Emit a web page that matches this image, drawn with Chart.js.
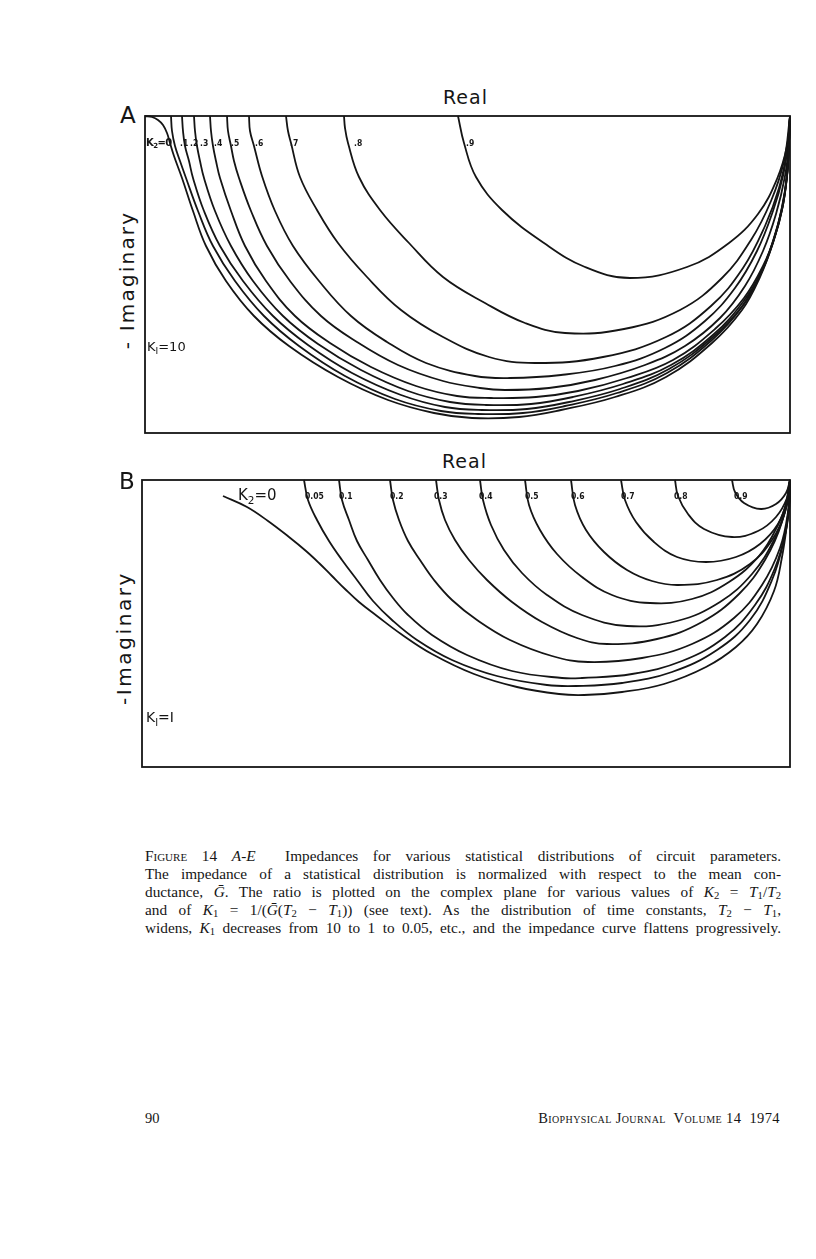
<!DOCTYPE html>
<html>
<head>
<meta charset="utf-8">
<script src="https://cdn.jsdelivr.net/npm/chart.js@4"></script>
<style>
  body { margin: 0; background: #fff; }
  #page { position: relative; width: 816px; height: 1259px; background: #fff; color: #151515; overflow: hidden; }
  canvas { position: absolute; }
  .t { position: absolute; white-space: nowrap; font-family: "DejaVu Sans", sans-serif; line-height: 1; }
  .big { font-size: 23px; }
  .axis { font-size: 19px; letter-spacing: 1px; }
  .rot { font-size: 20px; letter-spacing: 2.2px; transform: translate(-50%, -50%) rotate(-90deg); }
  .k { font-size: 8.5px; font-weight: bold; font-family: "DejaVu Sans Condensed", "DejaVu Sans", sans-serif; transform: translateY(-50%); }
  .lbl { font-size: 13px; transform: translateY(-50%); }
  .lbl sub { font-size: 0.7em; vertical-align: -0.35em; }
  #cap { position: absolute; left: 145px; top: 847px; width: 636px; font-family: "Liberation Serif", "Times New Roman", serif; font-size: 15.3px; line-height: 18px; }
  #cap div { text-align: justify; text-align-last: justify; }
  #cap sub { font-size: 0.7em; vertical-align: -0.2em; line-height: 0; }
  .foot { position: absolute; top: 1110px; font-family: "Liberation Serif", "Times New Roman", serif; font-size: 14.5px; }
</style>
</head>
<body>
<div id="page">
  <canvas id="chartA" width="653" height="325" style="left:141px; top:112px;"></canvas>
  <canvas id="chartB" width="656" height="295" style="left:138px; top:476px;"></canvas>

  <!-- panel A text -->
  <div class="t big" style="left:120px; top:104px;">A</div>
  <div class="t axis" style="left:443px; top:88px;">Real</div>
  <div class="t rot" style="left:127px; top:280px;">- Imaginary</div>
  <div class="t lbl" style="left:146px; top:144px; font-size:10px; font-weight:bold; letter-spacing:-0.6px;">K<sub>2</sub>=0</div>
  <div class="t k" style="left:180px; top:143px;">.1</div>
  <div class="t k" style="left:190px; top:143px;">.2</div>
  <div class="t k" style="left:200px; top:143px;">.3</div>
  <div class="t k" style="left:214px; top:143px;">.4</div>
  <div class="t k" style="left:231px; top:143px;">.5</div>
  <div class="t k" style="left:255px; top:143px;">.6</div>
  <div class="t k" style="left:290px; top:143px;">.7</div>
  <div class="t k" style="left:354px; top:143px;">.8</div>
  <div class="t k" style="left:466px; top:143px;">.9</div>
  <div class="t lbl" style="left:147px; top:348px;">K<sub>I</sub>=10</div>

  <!-- panel B text -->
  <div class="t big" style="left:119px; top:470px;">B</div>
  <div class="t axis" style="left:442px; top:452px;">Real</div>
  <div class="t rot" style="left:124px; top:638px; letter-spacing:2.6px;">-Imaginary</div>
  <div class="t lbl" style="left:238px; top:497px; font-size:15px;">K<sub>2</sub>=0</div>
  <div class="t k" style="left:305px; top:496px;">0.05</div>
  <div class="t k" style="left:339px; top:496px;">0.1</div>
  <div class="t k" style="left:390px; top:496px;">0.2</div>
  <div class="t k" style="left:434px; top:496px;">0.3</div>
  <div class="t k" style="left:479px; top:496px;">0.4</div>
  <div class="t k" style="left:525px; top:496px;">0.5</div>
  <div class="t k" style="left:571px; top:496px;">0.6</div>
  <div class="t k" style="left:621px; top:496px;">0.7</div>
  <div class="t k" style="left:674px; top:496px;">0.8</div>
  <div class="t k" style="left:734px; top:496px;">0.9</div>
  <div class="t lbl" style="left:146px; top:719px; font-size:14px;">K<sub>I</sub>=I</div>

  <div id="cap">
    <div><span style="font-variant:small-caps">Figure</span> 14 <i>A-E</i>&nbsp; Impedances for various statistical distributions of circuit parameters.</div>
    <div>The impedance of a statistical distribution is normalized with respect to the mean con-</div>
    <div>ductance, <i>G&#772;</i>. The ratio is plotted on the complex plane for various values of <i>K</i><sub>2</sub> = <i>T</i><sub>1</sub>/<i>T</i><sub>2</sub></div>
    <div>and of <i>K</i><sub>1</sub> = 1/(<i>G&#772;</i>(<i>T</i><sub>2</sub> &minus; <i>T</i><sub>1</sub>)) (see text). As the distribution of time constants, <i>T</i><sub>2</sub> &minus; <i>T</i><sub>1</sub>,</div>
    <div>widens, <i>K</i><sub>1</sub> decreases from 10 to 1 to 0.05, etc., and the impedance curve flattens progressively.</div>
  </div>

  <div class="foot" style="left:145px;">90</div>
  <div class="foot" style="right:36px; font-variant:small-caps; letter-spacing:0.4px;">Biophysical Journal&nbsp; Volume 14&nbsp; 1974</div>
</div>

<script>
// ---- panel A (K1 = 10), real 0..645, -imaginary 0..317 ----
const kLabelsA = ["0", ".1", ".2", ".3", ".4", ".5", ".6", ".7", ".8", ".9"];
const a0  = [[0,0],[7,1],[13,4],[18,9],[22,17],[25,27],[29,40],[37,62],[48,95],[61,130],[81,165],[109,200],[144,230],[193,261],[243,284],[289,297],[327,302],[374,301],[416,294],[470,281],[521,261],[567,227],[597,194],[615,161],[628,127],[637,94],[642,61],[644,27],[645,0]];
const a01 = [[26,0],[27,15],[30,30],[35,45],[41,62],[53,95],[68,130],[90,165],[119,200],[154,230],[200,260],[250,283],[296,295],[333,298],[378,297],[420,290],[472,277],[522,257],[567,224],[597,191],[615,159],[628,126],[637,93],[642,60],[644,27],[645,0]];
const a02 = [[37,0],[38,15],[40,30],[44,45],[48,62],[59,95],[75,130],[98,165],[128,200],[163,229],[207,257],[256,279],[300,291],[337,294],[382,293],[424,286],[475,273],[524,253],[568,221],[598,189],[616,157],[628,125],[637,92],[642,60],[644,27],[645,0]];
const a03 = [[49,0],[50,15],[52,30],[55,45],[59,62],[70,95],[86,130],[108,165],[138,200],[173,228],[216,254],[263,275],[305,286],[341,289],[386,288],[428,281],[478,268],[526,249],[569,218],[598,186],[617,155],[629,123],[637,91],[642,59],[644,27],[645,0]];
const a04 = [[65,0],[66,15],[68,30],[71,45],[75,62],[86,95],[100,130],[121,165],[150,200],[185,227],[226,251],[271,270],[312,280],[346,282],[391,281],[433,275],[482,262],[528,244],[570,213],[599,182],[618,150],[630,120],[638,89],[642,58],[644,27],[645,0]];
const a05 = [[82,0],[83,15],[86,30],[89,45],[94,62],[106,95],[122,130],[145,165],[176,200],[212,226],[253,249],[298,265],[335,272],[360,274],[404,272],[450,264],[500,249],[540,230],[575,202],[600,170],[618,135],[631,98],[640,60],[644,27],[645,0]];
const a06 = [[104,0],[105,15],[109,30],[117,60],[130,95],[148,130],[174,165],[206,200],[242,226],[281,247],[330,260],[365,262],[416,259],[470,250],[520,232],[560,205],[590,172],[612,135],[628,95],[638,60],[643,28],[645,0]];
const a07 = [[141,0],[143,15],[146,27],[155,61],[172,94],[193,127],[222,161],[256,194],[298,221],[344,241],[390,247],[458,241],[521,221],[566,190],[598,152],[620,110],[634,72],[642,35],[645,0]];
const a08 = [[199,0],[200,12],[203,27],[214,61],[235,94],[264,127],[298,161],[340,187],[380,207],[420,217],[479,213],[535,194],[577,162],[606,124],[626,85],[639,45],[645,0]];
const a09 = [[313,0],[319,27],[331,61],[357,94],[399,127],[440,151],[485,162],[542,151],[584,127],[613,98],[632,63],[642,30],[645,0]];

// ---- panel B (K1 = 1), real 0..648, -imaginary 0..287 ----
const kLabelsB = ["0", "0.05", "0.1", "0.2", "0.3", "0.4", "0.5", "0.6", "0.7", "0.8", "0.9"];
const b0   = [[81,16],[105,27],[126,41],[147,57],[164,71],[177,83],[190,96],[203,109],[217,122],[235,136],[259,154],[290,174],[332,194],[375,207],[417,214],[442,215],[480,212],[522,204],[564,187],[594,167],[615,144],[632,111],[640,77],[645,44],[648,14],[648,0]];
const b005 = [[162,0],[166,20],[175,40],[187,61],[200,80],[215,100],[231,121],[250,140],[275,160],[310,180],[355,196],[405,205],[434,206],[480,203],[530,192],[575,170],[608,140],[630,100],[642,60],[647,25],[648,0]];
const b01  = [[197,0],[200,20],[207,40],[215,61],[226,80],[238,100],[251,118],[266,135],[290,155],[325,175],[370,191],[420,198],[440,198],[490,194],[540,181],[583,157],[613,125],[633,88],[644,50],[648,20],[648,0]];
const b02  = [[248,0],[251,20],[257,40],[266,61],[278,80],[292,100],[310,120],[335,140],[368,160],[410,176],[446,182],[500,178],[550,164],[592,138],[620,105],[638,68],[646,32],[648,0]];
const b03  = [[294,0],[297,20],[303,40],[313,60],[327,80],[345,100],[370,122],[400,142],[435,158],[465,164],[515,159],[560,142],[597,114],[623,80],[640,42],[648,0]];
const b04  = [[338,0],[341,20],[349,45],[362,70],[380,93],[405,115],[440,135],[485,146],[535,141],[578,122],[610,94],[632,60],[645,25],[648,0]];
const b05  = [[383,0],[387,25],[398,50],[415,74],[440,97],[470,115],[508,123],[550,119],[587,102],[617,76],[636,45],[646,18],[648,0]];
const b06  = [[429,0],[433,25],[444,50],[462,72],[485,90],[510,101],[536,105],[575,100],[608,84],[630,60],[643,32],[648,0]];
const b07  = [[479,0],[483,20],[494,42],[512,62],[535,77],[564,82],[594,77],[618,64],[636,44],[645,20],[648,0]];
const b08  = [[533,0],[536,16],[546,34],[562,49],[590,57],[616,51],[634,37],[645,18],[648,0]];
const b09  = [[590,0],[593,12],[602,23],[619,29],[634,24],[644,13],[648,0]];

const curvesA = [a0, a01, a02, a03, a04, a05, a06, a07, a08, a09];
const curvesB = [b0, b005, b01, b02, b03, b04, b05, b06, b07, b08, b09];

// box round the plot area
const framePlugin = {
  id: "frame",
  afterDraw(chart) {
    const { ctx, chartArea: a } = chart;
    ctx.save();
    ctx.strokeStyle = "#151515";
    ctx.lineWidth = 1.8;
    ctx.strokeRect(a.left, a.top, a.width, a.height);
    ctx.restore();
  },
};

function drawPanel(id, curves, names, xMax, yMax) {
  new Chart(document.getElementById(id), {
    type: "scatter",
    data: {
      datasets: curves.map((c, i) => ({
        label: "K2=" + names[i],
        data: c.map((p) => ({ x: p[0], y: p[1] })),
        showLine: true,
        pointRadius: 0,
        borderColor: "#151515",
        borderWidth: 1.8,
        tension: 0.4,
        clip: 6,
      })),
    },
    options: {
      responsive: false,
      animation: false,
      events: [],
      layout: { padding: 4 },
      plugins: { legend: { display: false }, tooltip: { enabled: false } },
      scales: {
        x: { type: "linear", display: false, min: 0, max: xMax },
        y: { type: "linear", display: false, min: 0, max: yMax, reverse: true },
      },
    },
    plugins: [framePlugin],
  });
}

drawPanel("chartA", curvesA, kLabelsA, 645, 317);
drawPanel("chartB", curvesB, kLabelsB, 648, 287);
</script>
</body>
</html>
